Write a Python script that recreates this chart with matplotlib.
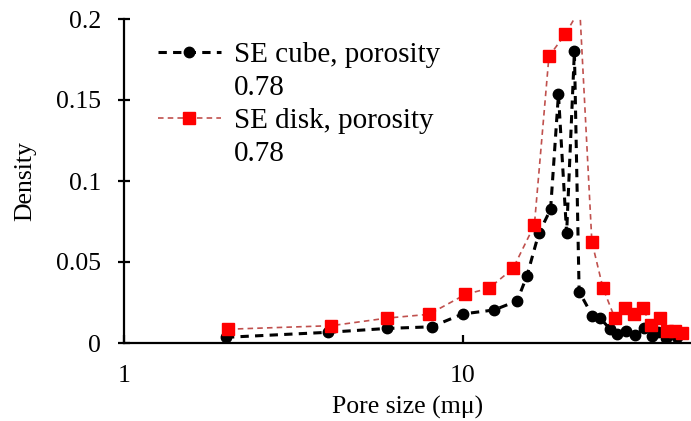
import matplotlib
matplotlib.use("Agg")
import matplotlib.pyplot as plt
from matplotlib.lines import Line2D

# Pore size distributions (pore size in mμ, density)
cube_size = [2.0, 4.0, 6.0, 8.1, 10.0, 12.4, 14.5, 15.5, 16.8, 18.2, 19.2, 20.3,
             21.4, 22.1, 24.2, 25.4, 27.3, 28.6, 30.4, 32.3, 34.4, 36.2, 37.8,
             39.8, 43.0]
cube_density = [0.0035, 0.0066, 0.009, 0.010, 0.0179, 0.0204, 0.026, 0.0415,
                0.0677, 0.0825, 0.1535, 0.0677, 0.180, 0.0317, 0.0167, 0.0156,
                0.0086, 0.0056, 0.0072, 0.0047, 0.009, 0.0043, 0.0066, 0.0033,
                0.0039]

disk_size = [2.03, 4.1, 6.0, 7.95, 10.2, 11.97, 14.1, 16.3, 18.0, 20.1, 22.2,
             24.1, 26.0, 28.2, 30.2, 32.1, 34.1, 36.0, 38.3, 40.3, 42.4, 44.5]
disk_density = [0.0085, 0.0107, 0.0154, 0.0177, 0.030, 0.0338, 0.046, 0.0728,
                0.177, 0.1905, 0.206, 0.0625, 0.0338, 0.0152, 0.0214, 0.0179,
                0.0214, 0.0111, 0.0152, 0.0076, 0.0076, 0.0064]

cube_label = "SE cube, porosity"
disk_label = "SE disk, porosity"
porosity_text = "0.78"

y_ticks = [0, 0.05, 0.1, 0.15, 0.2]
y_tick_labels = ["0", "0.05", "0.1", "0.15", "0.2"]
x_ticks = [1, 10]
x_tick_labels = ["1", "10"]

plt.rcParams["font.family"] = ["Liberation Serif", "DejaVu Serif"]
plt.rcParams["lines.scale_dashes"] = False

fig = plt.figure(figsize=(6.91, 4.21), dpi=100)
ax = fig.add_axes([124 / 691, 1 - 343 / 421, 567 / 691, (343 - 19) / 421])

cube_line, = ax.plot(cube_size, cube_density, color="black", linewidth=2.2,
                     dashes=(6, 4.5), marker="o", markersize=7.5,
                     markerfacecolor="black", markeredgecolor="black", zorder=3)
disk_line, = ax.plot(disk_size, disk_density, color="#C0504D", linewidth=1.2,
                     dashes=(4, 3), marker="s", markersize=8,
                     markerfacecolor="#FF0000", markeredgecolor="#FF0000", zorder=4)

ax.set_xscale("log")
ax.set_xlim(1, 47.3)
ax.set_ylim(0, 0.2)
ax.set_xticks(x_ticks)
ax.set_xticklabels(x_tick_labels)
ax.xaxis.set_minor_locator(matplotlib.ticker.NullLocator())
ax.set_yticks(y_ticks)
ax.set_yticklabels(y_tick_labels)

for side in ("top", "right"):
    ax.spines[side].set_visible(False)
for side in ("left", "bottom"):
    ax.spines[side].set_linewidth(1.6)

ax.tick_params(axis="y", direction="inout", length=9, width=1.6, labelsize=18.5, pad=12)
ax.tick_params(axis="x", direction="in", length=6, width=1.6, labelsize=18.5, pad=16)

ax.set_xlabel("Pore size (mμ)", fontsize=18.5, labelpad=6)
ax.set_ylabel("Density", fontsize=18.5, labelpad=14)

blank = Line2D([], [], linestyle="none", marker="none")
ax.legend([cube_line, blank, disk_line, blank],
          [cube_label, porosity_text, disk_label, porosity_text],
          loc="upper left", bbox_to_anchor=(0.06, 0.93), frameon=False,
          fontsize=21, handlelength=2.15, handletextpad=0.45,
          labelspacing=0.22, numpoints=1, borderpad=0, borderaxespad=0)

fig.savefig("out.png", dpi=100)
